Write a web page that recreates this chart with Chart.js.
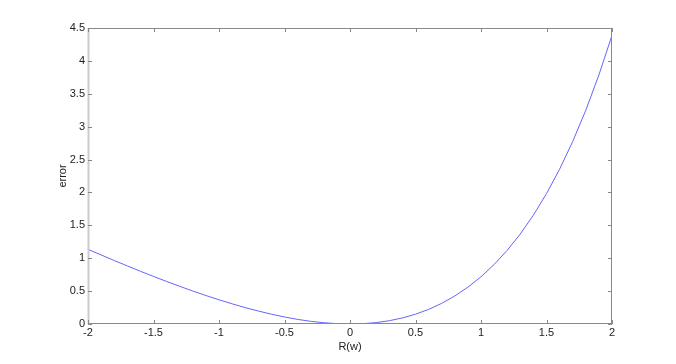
<!DOCTYPE html>
<html><head><meta charset="utf-8">
<script src="https://cdn.jsdelivr.net/npm/chart.js@4/dist/chart.umd.min.js"></script>
<style>html,body{margin:0;padding:0;background:#fff}canvas{display:block}</style>
</head><body>
<canvas id="c" width="676" height="364"></canvas>
<script>
const xValues = [-2,-1.9,-1.8,-1.7,-1.6,-1.5,-1.4,-1.3,-1.2,-1.1,-1,-0.9,-0.8,-0.7,-0.6,-0.5,-0.4,-0.3,-0.2,-0.1,0,0.1,0.2,0.3,0.4,0.5,0.6,0.7,0.8,0.9,1,1.1,1.2,1.3,1.4,1.5,1.6,1.7,1.8,1.9,2];
const errorValues = [1.135,1.050,0.965,0.883,0.802,0.723,0.647,0.573,0.501,0.433,0.368,0.307,0.249,0.197,0.149,0.107,0.070,0.041,0.019,0.005,0,0.005,0.021,0.050,0.092,0.149,0.222,0.314,0.426,0.560,0.718,0.904,1.120,1.369,1.655,1.982,2.353,2.774,3.250,3.786,4.389];
const xTitle = 'R(w)';
const yTitle = 'error';

const points = xValues.map((x,i)=>({x:x,y:errorValues[i]}));
const font = {family:'"Liberation Sans", Arial, sans-serif', size:11};
const fmt = v => String(Math.round(v*10)/10);

const boxPlugin = {
  id:'box',
  afterDraw(chart){
    const {ctx, chartArea:a, scales:{x,y}} = chart;
    ctx.save();
    ctx.strokeStyle = '#888';
    ctx.lineWidth = 1;
    ctx.beginPath();
    ctx.moveTo(a.left, a.top+0.5); ctx.lineTo(a.right, a.top+0.5);
    ctx.moveTo(a.right-0.5, a.top); ctx.lineTo(a.right-0.5, a.bottom);
    ctx.moveTo(a.left, a.bottom-0.5); ctx.lineTo(a.right, a.bottom-0.5);
    ctx.stroke();
    ctx.strokeStyle = '#ccc'; ctx.lineWidth = 2;
    ctx.beginPath(); ctx.moveTo(a.left+0.5, a.top); ctx.lineTo(a.left+0.5, a.bottom); ctx.stroke();
    ctx.strokeStyle = '#888'; ctx.lineWidth = 1;
    ctx.beginPath();
    const L = 4;
    x.ticks.forEach(t=>{
      const px = Math.round(x.getPixelForValue(t.value))+0.5;
      ctx.moveTo(px, a.bottom); ctx.lineTo(px, a.bottom-L);
      ctx.moveTo(px, a.top); ctx.lineTo(px, a.top+L);
    });
    y.ticks.forEach(t=>{
      const py = Math.round(y.getPixelForValue(t.value))+0.5;
      ctx.moveTo(a.left, py); ctx.lineTo(a.left+L, py);
      ctx.moveTo(a.right, py); ctx.lineTo(a.right-L, py);
    });
    ctx.stroke();
    ctx.restore();
  }
};

new Chart(document.getElementById('c'), {
  type:'line',
  data:{datasets:[{data:points, borderColor:'rgb(100,100,255)', borderWidth:1, pointRadius:0, tension:0, fill:false}]},
  options:{
    responsive:false, animation:false,
    layout:{padding:{left:52, top:28, right:64, bottom:0}},
    plugins:{legend:{display:false}, tooltip:{enabled:false}},
    scales:{
      x:{type:'linear', min:-2, max:2,
         ticks:{stepSize:0.5, color:'#222', font:font, padding:2, maxRotation:0, callback:fmt},
         grid:{display:false, drawTicks:false}, border:{display:false},
         title:{display:true, text:xTitle, color:'#222', font:font, padding:{top:2,bottom:10}},
         afterFit(s){ s.height = 40; }},
      y:{type:'linear', min:0, max:4.5,
         ticks:{stepSize:0.5, color:'#222', font:font, padding:3, callback:fmt},
         grid:{display:false, drawTicks:false}, border:{display:false},
         title:{display:true, text:yTitle, color:'#222', font:font, padding:{top:4,bottom:0}},
         afterFit(s){ s.width = 36; }}
    }
  },
  plugins:[boxPlugin]
});
</script>
</body></html>
